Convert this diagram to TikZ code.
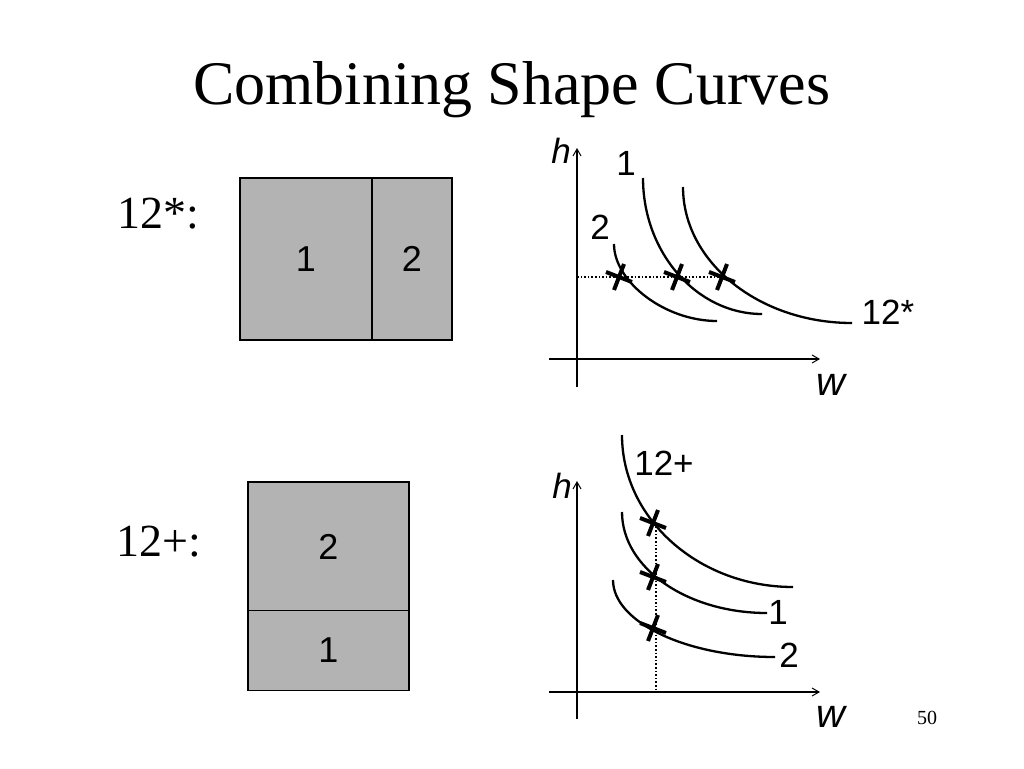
\documentclass[tikz,border=0pt]{standalone}
\usepackage{fontspec}
\setmainfont{Liberation Serif}
\setsansfont{Liberation Sans}
\usetikzlibrary{arrows.meta}
\definecolor{blockgray}{HTML}{B3B3B3}
\newcommand\crossat[1]{\draw[cross] (#1) ++(-5,13) -- ++(10,-26); \draw[cross] (#1) ++(-13,-5) -- ++(26,10);}

\begin{document}
\begin{tikzpicture}[x=1pt,y=-1pt,
  block/.style={draw, fill=blockgray, line width=1.8pt, inner sep=0pt, font=\sffamily\fontsize{36}{36}\selectfont},
  lbl/.style={font=\sffamily\fontsize{35}{35}\selectfont},
  axis/.style={line width=1.6pt, -{Straight Barb[length=7pt,width=8pt,line width=1pt]}},
  curve/.style={line width=2.3pt},
  cross/.style={line width=4pt},
  guide/.style={dotted, line width=1.6pt}]
\useasboundingbox (0,0) rectangle (1024,768);
\node[font=\fontsize{62}{70}\selectfont] (title) at (512,90) {Combining Shape Curves};
\node[font=\fontsize{46}{50}\selectfont] (star) at (158,214) {12*:};
\node[font=\fontsize{46}{50}\selectfont] (plus) at (159,542) {12+:};
% 12* block
\node[block, minimum width=132, minimum height=162] (s1) at (306,259) {1};
\node[block, minimum width=80, minimum height=162] (s2) at (412,259) {2};
% 12+ block
\node[block, minimum width=161, minimum height=129] (p2) at (328.5,546.5) {2};
\node[block, minimum width=161, minimum height=80] (p1) at (328.5,650.5) {1};
% top graph
\coordinate (o1v) at (577,387); \coordinate (o1h) at (549,359);
\coordinate (h1) at (577,148); \coordinate (w1) at (820,359);
\draw[axis] (o1v) -- (h1);
\draw[axis] (o1h) -- (w1);
\node[font=\sffamily\itshape\fontsize{35}{35}\selectfont] (hlab1) at (561,151) {h};
\node[font=\sffamily\itshape\fontsize{40}{40}\selectfont] (wlab1) at (831,385) {w};
\draw[curve] (614,244) .. controls +(0,38) and +(-52,0) .. (717,321);
\draw[curve] (643,178) .. controls +(0,75) and +(-65,0) .. (762,314);
\draw[curve] (683,187) .. controls +(0,75) and +(-93,0) .. (852,323);
\coordinate (hA) at (577,277); \coordinate (hB) at (727,277);
\draw[guide] (hA) -- (hB);
\crossat{619,277} \crossat{677,277} \crossat{722,277}
\node[lbl] (c1) at (626,163) {1};
\node[lbl] (c2) at (600,227) {2};
\node[lbl] (c12) at (888,312) {12*};
% bottom graph
\coordinate (o2v) at (577,719); \coordinate (o2h) at (549,692);
\coordinate (h2) at (577,481); \coordinate (w2) at (820,692);
\draw[axis] (o2v) -- (h2);
\draw[axis] (o2h) -- (w2);
\node[font=\sffamily\itshape\fontsize{35}{35}\selectfont] (hlab2) at (562,486) {h};
\node[font=\sffamily\itshape\fontsize{40}{40}\selectfont] (wlab2) at (831,717) {w};
\draw[curve] (622,435) .. controls +(0,84) and +(-94,0) .. (793,587);
\draw[curve] (622,512) .. controls +(0,56) and +(-80,0) .. (767,613);
\draw[curve] (613,580) .. controls +(0,42) and +(-89,0) .. (775,657);
\coordinate (vA) at (656,523); \coordinate (vB) at (656,692);
\draw[guide] (vA) -- (vB);
\crossat{653,523} \crossat{653,577} \crossat{653,628}
\node[lbl] (d12) at (664,463) {12+};
\node[lbl] (d1) at (778,612) {1};
\node[lbl] (d2) at (789,655) {2};
\node[font=\fontsize{20}{22}\selectfont] (page) at (927,718) {50};
\end{tikzpicture}
\end{document}
